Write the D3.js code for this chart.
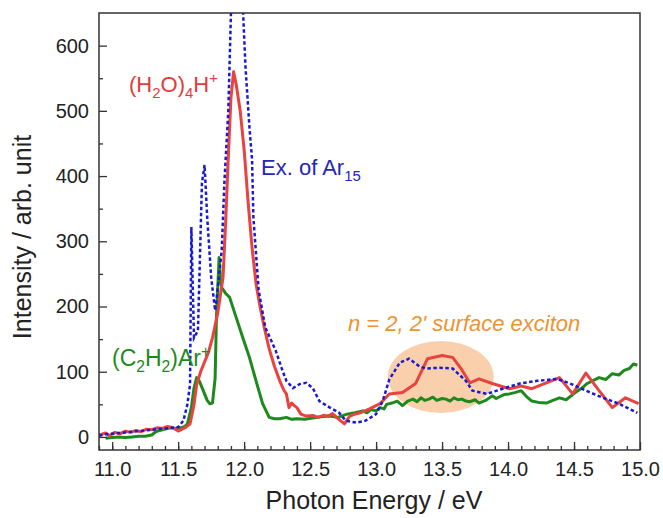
<!DOCTYPE html>
<html>
<head>
<meta charset="utf-8">
<script src="https://cdn.jsdelivr.net/npm/d3@7"></script>
<style>
  body { margin: 0; background: #fff; }
  svg text { font-family: "Liberation Sans", Arial, sans-serif; }
</style>
</head>
<body>
<svg width="663" height="518"></svg>
<script>
// (H2O)4H+ yield
const redE = [10.90, 10.95, 10.98, 11.02, 11.06, 11.10, 11.14, 11.18, 11.22, 11.26, 11.30, 11.34, 11.38, 11.42, 11.46, 11.50, 11.53, 11.56, 11.59, 11.62, 11.64, 11.67, 11.70, 11.73, 11.76, 11.80, 11.84, 11.86, 11.88, 11.90, 11.92, 11.94, 11.97, 12.00, 12.03, 12.06, 12.09, 12.12, 12.15, 12.19, 12.23, 12.27, 12.30, 12.32, 12.34, 12.36, 12.38, 12.40, 12.43, 12.47, 12.52, 12.56, 12.60, 12.64, 12.67, 12.70, 12.73, 12.76, 12.80, 12.84, 12.88, 12.95, 13.03, 13.10, 13.20, 13.30, 13.39, 13.50, 13.58, 13.64, 13.71, 13.78, 13.88, 14.01, 14.10, 14.18, 14.29, 14.39, 14.49, 14.59, 14.69, 14.79, 14.89, 14.99];
const redI = [3, 6, 2, 7, 5, 9, 7, 10, 8, 12, 11, 14, 13, 16, 14, 9, 12, 15, 20, 50, 80, 100, 115, 130, 152, 190, 245, 330, 430, 520, 560, 540, 500, 440, 360, 290, 235, 200, 170, 135, 108, 86, 72, 66, 45, 52, 48, 45, 35, 32, 33, 30, 33, 32, 36, 30, 25, 20, 32, 35, 37, 43, 51, 66, 68, 82, 120, 125, 122, 106, 83, 89, 82, 74, 78, 74, 83, 91, 66, 98, 71, 45, 60, 51];

// (C2H2)Ar+ yield
const greenE = [10.95, 11.00, 11.05, 11.10, 11.15, 11.20, 11.25, 11.30, 11.33, 11.36, 11.40, 11.44, 11.48, 11.52, 11.55, 11.57, 11.60, 11.62, 11.64, 11.66, 11.68, 11.70, 11.72, 11.74, 11.76, 11.78, 11.79, 11.81, 11.82, 11.83, 11.86, 11.89, 11.94, 11.99, 12.04, 12.09, 12.14, 12.19, 12.23, 12.27, 12.32, 12.36, 12.40, 12.46, 12.52, 12.58, 12.65, 12.71, 12.78, 12.84, 12.90, 12.93, 12.96, 13.00, 13.03, 13.06, 13.08, 13.12, 13.16, 13.20, 13.24, 13.28, 13.31, 13.34, 13.37, 13.40, 13.43, 13.46, 13.50, 13.53, 13.56, 13.59, 13.62, 13.65, 13.68, 13.71, 13.75, 13.78, 13.83, 13.88, 13.91, 13.94, 13.97, 14.01, 14.05, 14.10, 14.14, 14.18, 14.23, 14.29, 14.34, 14.39, 14.44, 14.49, 14.53, 14.56, 14.60, 14.64, 14.69, 14.74, 14.79, 14.84, 14.88, 14.92, 14.95, 14.98];
const greenI = [-2, -1, 0, -1, 0, 1, 1, 3, 8, 10, 12, 14, 13, 14, 16, 20, 45, 75, 91, 86, 76, 66, 56, 51, 52, 90, 183, 275, 245, 229, 220, 214, 183, 152, 122, 86, 51, 30, 28, 28, 30, 27, 28, 27, 29, 31, 32, 30, 35, 37, 40, 37, 42, 40, 45, 43, 50, 52, 55, 48, 55, 58, 54, 60, 56, 58, 61, 56, 59, 58, 55, 60, 57, 58, 55, 54, 57, 52, 56, 63, 59, 62, 65, 66, 68, 71, 62, 55, 53, 52, 56, 60, 57, 65, 71, 75, 82, 86, 91, 88, 97, 95, 102, 105, 112, 110, 120];

// Ex. of Ar15 (dotted)
const blueE = [10.90, 10.95, 11.00, 11.05, 11.10, 11.15, 11.20, 11.25, 11.30, 11.35, 11.40, 11.45, 11.50, 11.54, 11.57, 11.59, 11.60, 11.61, 11.62, 11.65, 11.68, 11.70, 11.72, 11.75, 11.78, 11.79, 11.83, 11.85, 11.88, 11.90, 11.92, 11.95, 11.97, 11.99, 12.01, 12.04, 12.06, 12.07, 12.11, 12.16, 12.24, 12.29, 12.32, 12.37, 12.42, 12.47, 12.52, 12.57, 12.65, 12.72, 12.77, 12.85, 12.92, 13.00, 13.05, 13.10, 13.18, 13.25, 13.33, 13.38, 13.48, 13.58, 13.68, 13.73, 13.84, 13.96, 14.09, 14.22, 14.37, 14.47, 14.59, 14.72, 14.84, 14.98];
const blueI = [2, 4, 5, 6, 7, 8, 9, 10, 11, 12, 13, 14, 15, 25, 50, 81, 322, 235, 152, 163, 389, 417, 337, 245, 194, 209, 286, 389, 500, 650, 720, 740, 720, 660, 568, 475, 425, 337, 225, 168, 132, 102, 86, 75, 81, 83, 75, 55, 45, 37, 25, 22, 25, 35, 55, 88, 114, 120, 108, 105, 106, 105, 86, 71, 66, 74, 82, 86, 89, 82, 71, 60, 51, 37];

const xMajor = [11.0, 11.5, 12.0, 12.5, 13.0, 13.5, 14.0, 14.5, 15.0];
const yMajor = [0, 100, 200, 300, 400, 500, 600];
const excitonCenter = [13.49, 92];

const svg = d3.select("svg");
const mLeft = 99, mRight = 640, mTop = 13, mBottom = 450;

const x = d3.scaleLinear().domain([10.9, 15.0]).range([mLeft, mRight]);
const y = d3.scaleLinear().domain([-20, 650]).range([mBottom, mTop]);

svg.append("defs").append("clipPath").attr("id", "plot")
  .append("rect").attr("x", mLeft).attr("y", mTop)
  .attr("width", mRight - mLeft).attr("height", mBottom - mTop);

// highlighted exciton region
svg.append("ellipse")
  .attr("cx", x(excitonCenter[0]))
  .attr("cy", y(excitonCenter[1]))
  .attr("rx", 53).attr("ry", 36)
  .attr("fill", "#f8c89c").attr("opacity", 0.85);

const line = d3.line().x(d => x(d[0])).y(d => y(d[1]));
const plot = svg.append("g").attr("clip-path", "url(#plot)");

plot.append("path")
  .datum(greenE.map((e, i) => [e, greenI[i]]))
  .attr("d", line).attr("fill", "none")
  .attr("stroke", "#1e8a1e").attr("stroke-width", 3).attr("stroke-linejoin", "round");

plot.append("path")
  .datum(redE.map((e, i) => [e, redI[i]]))
  .attr("d", line).attr("fill", "none")
  .attr("stroke", "#e8433f").attr("stroke-width", 3).attr("stroke-linejoin", "round");

plot.append("path")
  .datum(blueE.map((e, i) => [e, blueI[i]]))
  .attr("d", line).attr("fill", "none")
  .attr("stroke", "#1a1ad0").attr("stroke-width", 2.5)
  .attr("stroke-dasharray", "3.5,2.5");

// axes with inward ticks
svg.append("g").attr("transform", `translate(0,${mBottom})`)
  .call(d3.axisBottom(x).tickValues(xMajor).tickFormat(d3.format(".1f")).tickSize(-8).tickPadding(12));
svg.append("g").attr("transform", `translate(0,${mBottom})`)
  .call(d3.axisBottom(x).tickValues(d3.range(109, 150).map(d => d / 10)).tickFormat("").tickSize(-4));

svg.append("g").attr("transform", `translate(${mLeft},0)`)
  .call(d3.axisLeft(y).tickValues(yMajor).tickSize(-8).tickPadding(10));
svg.append("g").attr("transform", `translate(${mLeft},0)`)
  .call(d3.axisLeft(y).tickValues([50, 150, 250, 350, 450, 550]).tickFormat("").tickSize(-4));

svg.selectAll(".domain").remove();
svg.selectAll(".tick line").attr("stroke", "#333").attr("stroke-width", 1.3);
svg.selectAll(".tick text").attr("font-size", 20).attr("fill", "#222")
  .style("font-family", "'Liberation Sans', Arial, sans-serif");

svg.append("rect")
  .attr("x", mLeft).attr("y", mTop)
  .attr("width", mRight - mLeft).attr("height", mBottom - mTop)
  .attr("fill", "none").attr("stroke", "#333").attr("stroke-width", 1.5);

// axis titles
svg.append("text")
  .attr("x", 374).attr("y", 509)
  .attr("text-anchor", "middle").attr("font-size", 25).attr("fill", "#222")
  .text("Photon Energy / eV");

svg.append("text")
  .attr("transform", "translate(31,237) rotate(-90)")
  .attr("text-anchor", "middle").attr("font-size", 25).attr("fill", "#222")
  .text("Intensity / arb. unit");

// labels with sub/superscripts
function label(xp, yp, color, size, parts, italic) {
  const t = svg.append("text").attr("x", xp).attr("y", yp)
    .attr("font-size", size).attr("fill", color);
  if (italic) t.attr("font-style", "italic");
  let shift = 0;
  parts.forEach(p => {
    const s = p[1] === "sub" ? 6 : p[1] === "sup" ? -9 : 0;
    const ts = t.append("tspan").attr("dy", s - shift).text(p[0]);
    if (s !== 0) ts.attr("font-size", size * 0.68);
    shift = s;
  });
}

label(129, 92, "#e23b3b", 22, [["(H"], ["2", "sub"], ["O)"], ["4", "sub"], ["H"], ["+", "sup"]]);
label(261, 175, "#2626b8", 22, [["Ex. of Ar"], ["15", "sub"]]);
label(112, 366, "#1e8a1e", 23, [["(C"], ["2", "sub"], ["H"], ["2", "sub"], [")Ar"], ["+", "sup"]]);
label(348, 331, "#f0922e", 22, [["n"], [" = 2, 2' surface exciton"]], true);
</script>
</body>
</html>
